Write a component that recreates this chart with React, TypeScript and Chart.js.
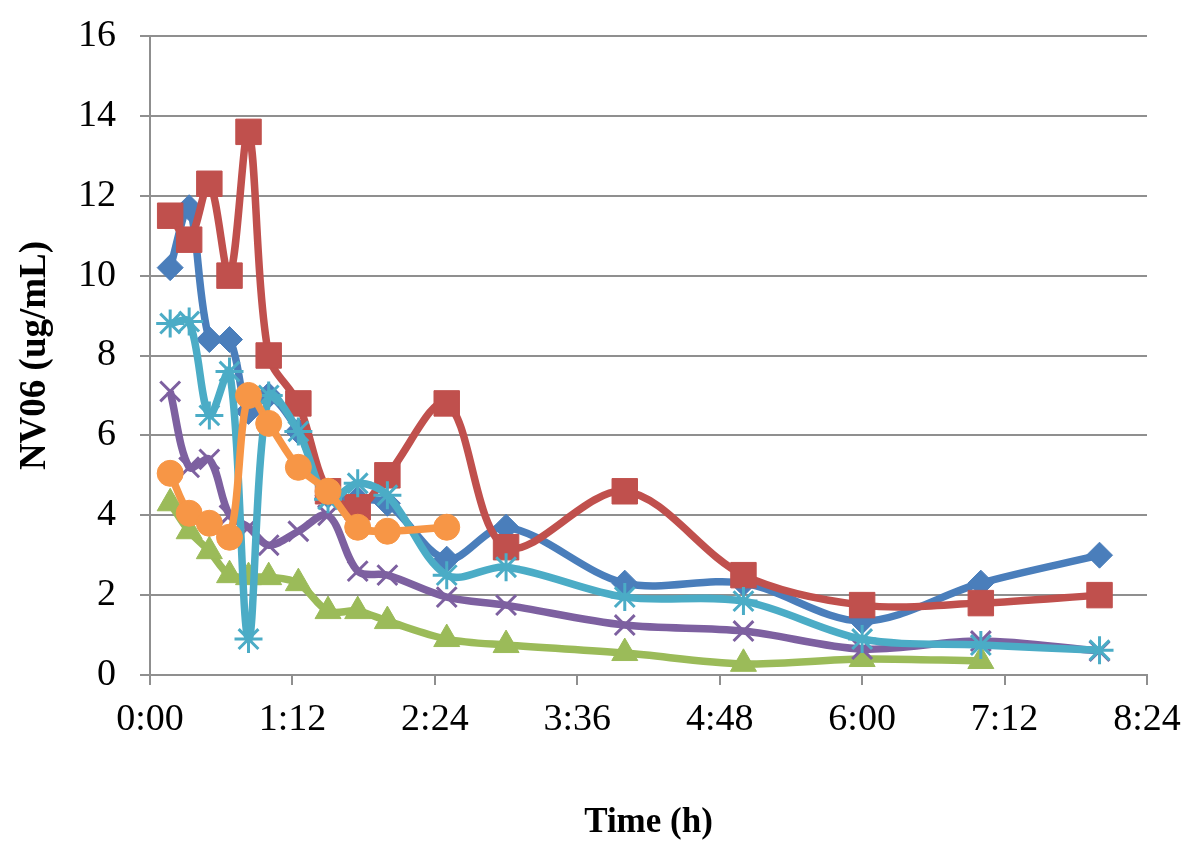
import React, { useEffect, useRef } from "react";
import { Chart, registerables } from "chart.js";

Chart.register(...registerables);

const times = [0.17, 0.33, 0.5, 0.67, 0.83, 1.0, 1.25, 1.5, 1.75, 2, 2.5, 3, 4, 5, 6, 7, 8];
const blueValues = [10.2, 11.7, 8.4, 8.4, 6.6, 7.0, 6.1, 4.5, 4.4, 4.3, 2.9, 3.7, 2.3, 2.3, 1.35, 2.3, 3.0];
const redValues = [11.5, 10.9, 12.3, 10.0, 13.6, 8.0, 6.8, 4.6, 4.2, 5.0, 6.8, 3.2, 4.6, 2.5, 1.75, 1.8, 2.0];
const greenValues = [4.3, 3.6, 3.1, 2.5, 2.45, 2.45, 2.3, 1.6, 1.6, 1.35, 0.9, 0.75, 0.55, 0.28, 0.4, 0.35, null];
const purpleValues = [7.1, 5.2, 5.4, 4.0, 3.7, 3.25, 3.6, 4.0, 2.6, 2.5, 1.95, 1.75, 1.25, 1.1, 0.65, 0.85, 0.6];
const cyanValues = [8.8, 8.85, 6.5, 7.6, 0.9, 7.0, 6.1, 4.4, 4.8, 4.5, 2.5, 2.7, 1.95, 1.85, 0.9, 0.75, 0.62];
const orangeValues = [5.05, 4.05, 3.8, 3.45, 7.0, 6.3, 5.2, 4.6, 3.7, 3.6, 3.7, null, null, null, null, null, null];

const xTickValues = [0, 1.2, 2.4, 3.6, 4.8, 6.0, 7.2, 8.4];
const xTickLabels = ["0:00", "1:12", "2:24", "3:36", "4:48", "6:00", "7:12", "8:24"];
const yTickValues = [0, 2, 4, 6, 8, 10, 12, 14, 16];

const xTitle = "Time (h)";
const yTitle = "NV06 (ug/mL)";

function toPoints(vals: (number | null)[]) {
  const pts: { x: number; y: number }[] = [];
  vals.forEach((v, i) => {
    if (v !== null && v !== undefined) pts.push({ x: times[i], y: v });
  });
  return pts;
}

const GRID = "#8f8f8f";
const FONT = "'Liberation Serif', 'Times New Roman', serif";

export default function App() {
  const ref = useRef<HTMLCanvasElement | null>(null);

  useEffect(() => {
    if (!ref.current) return;
    const mk = (
      label: string,
      vals: (number | null)[],
      color: string,
      style: string,
      radius: number,
      order: number,
      pbw: number
    ) => ({
      label,
      data: toPoints(vals),
      borderColor: color,
      backgroundColor: color,
      pointBackgroundColor: color,
      pointBorderColor: color,
      pointStyle: style,
      pointRadius: radius,
      pointBorderWidth: pbw,
      borderWidth: 7.5,
      tension: 0.33,
      order,
    });

    const chart = new Chart(ref.current, {
      type: "line",
      data: {
        datasets: [
          mk("Series1", blueValues, "#4a7ebb", "rectRot", 13, 6, 1),
          mk("Series2", redValues, "#c0504d", "rect", 18, 5, 1),
          mk("Series3", greenValues, "#9bbb59", "triangle", 15, 4, 1),
          mk("Series4", purpleValues, "#7d60a0", "crossRot", 14, 3, 3),
          mk("Series5", cyanValues, "#4bacc6", "star", 14, 2, 3),
          mk("Series6", orangeValues, "#f79646", "circle", 13, 1, 1),
        ] as any,
      },
      options: {
        responsive: false,
        animation: false,
        layout: { padding: { top: 36, right: 53, left: 0, bottom: 0 } },
        plugins: {
          legend: { display: false },
          tooltip: { enabled: false },
        },
        scales: {
          x: {
            type: "linear",
            min: 0,
            max: 8.4,
            afterBuildTicks: (scale: any) => {
              scale.ticks = xTickValues.map((v) => ({ value: v }));
            },
            afterFit: (scale: any) => {
              scale.height = 181;
              scale.paddingLeft = 0;
              scale.paddingRight = 0;
            },
            ticks: {
              autoSkip: false,
              maxRotation: 0,
              padding: 12,
              color: "#000",
              font: { family: FONT, size: 38 },
              callback: (_v: any, i: number) => xTickLabels[i],
            },
            grid: {
              display: true,
              drawOnChartArea: false,
              drawTicks: true,
              tickLength: 10,
              color: GRID,
              lineWidth: 2,
            },
            border: { display: true, color: GRID, width: 2 },
            title: {
              display: true,
              text: xTitle,
              color: "#000",
              font: { family: FONT, size: 35, weight: "bold" },
              padding: { top: 0, bottom: 12 },
            },
          },
          y: {
            type: "linear",
            min: 0,
            max: 16,
            afterBuildTicks: (scale: any) => {
              scale.ticks = yTickValues.map((v) => ({ value: v }));
            },
            afterFit: (scale: any) => {
              scale.width = 150;
              scale.paddingTop = 0;
              scale.paddingBottom = 0;
            },
            ticks: {
              padding: 24,
              color: "#000",
              font: { family: FONT, size: 38 },
            },
            grid: {
              display: true,
              drawTicks: true,
              tickLength: 10,
              color: GRID,
              lineWidth: 2,
            },
            border: { display: true, color: GRID, width: 2 },
            title: {
              display: true,
              text: yTitle,
              color: "#000",
              font: { family: FONT, size: 37, weight: "bold" },
              padding: { top: 13, bottom: 0 },
            },
          },
        },
      },
      plugins: [
        {
          id: "bg",
          beforeDraw: (c: any) => {
            const ctx = c.ctx;
            ctx.save();
            ctx.fillStyle = "#fff";
            ctx.fillRect(0, 0, c.width, c.height);
            ctx.restore();
          },
        },
      ],
    });
    return () => chart.destroy();
  }, []);

  return (
    <div style={{ position: "absolute", left: 0, top: 0, width: 1200, height: 856, background: "#fff" }}>
      <canvas ref={ref} width={1200} height={856} style={{ width: 1200, height: 856 }} />
    </div>
  );
}
